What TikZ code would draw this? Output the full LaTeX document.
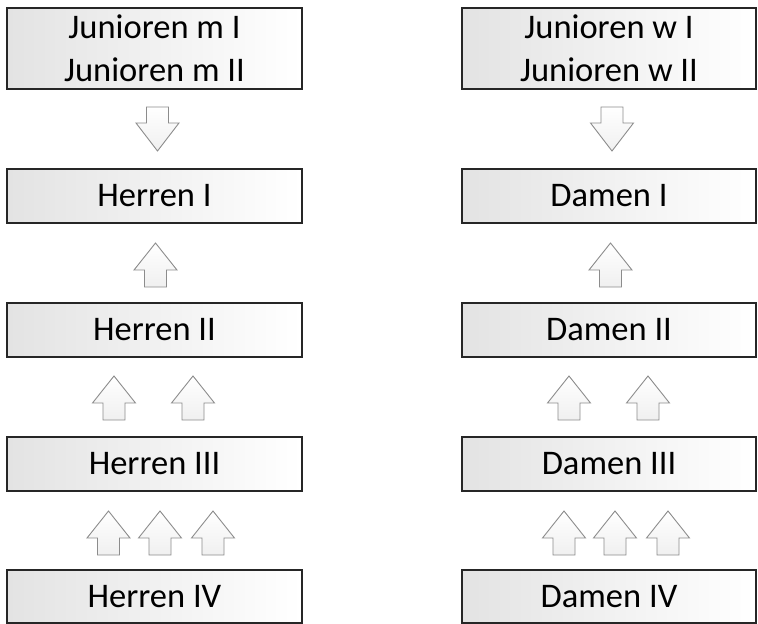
\documentclass[tikz,border=0pt]{standalone}
\usepackage{fontspec}
\setmainfont{Carlito}
\usetikzlibrary{shadows}
\tikzset{
  tbox/.style={draw=black!85, line width=1.2pt, left color=black!11, right color=white,
    minimum width=295pt, inner sep=0pt, align=center,
    drop shadow={shadow xshift=1pt, shadow yshift=-1pt, opacity=0.3},
    font=\fontsize{34.5}{43}\selectfont},
  arrowfill/.style={draw=black!45, line width=0.9pt, top color=white, bottom color=black!6, line join=miter},
  blockup/.pic={\path[arrowfill] (-11,0) -- (11,0) -- (11,-17) -- (21.5,-17) -- (0,-44) -- (-21.5,-17) -- (-11,-17) -- cycle;},
  blockdown/.pic={\path[arrowfill] (-11,0) -- (11,0) -- (11,16) -- (21.5,16) -- (0,44) -- (-21.5,16) -- (-11,16) -- cycle;}
}
\begin{document}
\begin{tikzpicture}[x=1pt,y=-1pt]
\useasboundingbox (0,0) rectangle (758,624);
% left column
\node[tbox, minimum height=81pt] (jm) at (154.5,48.5) {Junioren m I\\Junioren m II};
\node[tbox, minimum height=54pt] (h1) at (154.5,196) {Herren I};
\node[tbox, minimum height=54pt] (h2) at (154.5,330) {Herren II};
\node[tbox, minimum height=54pt] (h3) at (154.5,464) {Herren III};
\node[tbox, minimum height=53pt] (h4) at (154.5,596.5) {Herren IV};
% right column
\node[tbox, minimum height=81pt, minimum width=294pt] (jw) at (609,48.5) {Junioren w I\\Junioren w II};
\node[tbox, minimum height=54pt, minimum width=294pt] (d1) at (609,196) {Damen I};
\node[tbox, minimum height=54pt, minimum width=294pt] (d2) at (609,330) {Damen II};
\node[tbox, minimum height=54pt, minimum width=294pt] (d3) at (609,464) {Damen III};
\node[tbox, minimum height=53pt, minimum width=294pt] (d4) at (609,596.5) {Damen IV};
% arrows left
\pic at (157.5,107) {blockdown};
\pic at (155.5,287) {blockup};
\pic at (114,420) {blockup};
\pic at (193,420) {blockup};
\pic at (108.5,555) {blockup};
\pic at (160,555) {blockup};
\pic at (213,555) {blockup};
% arrows right
\pic at (612,107) {blockdown};
\pic at (610.5,287) {blockup};
\pic at (569,420) {blockup};
\pic at (648,420) {blockup};
\pic at (564,555) {blockup};
\pic at (615,555) {blockup};
\pic at (668,555) {blockup};
\end{tikzpicture}
\end{document}
